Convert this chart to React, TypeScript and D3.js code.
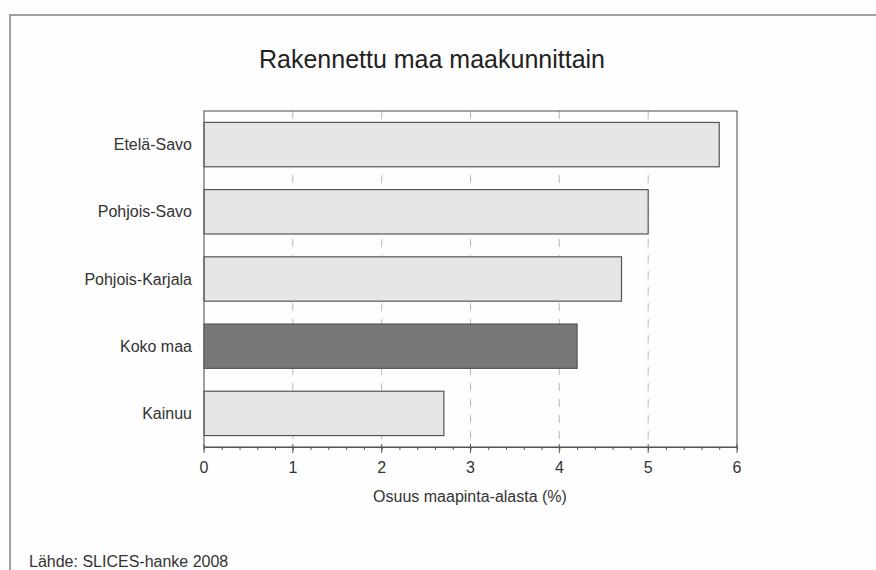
import * as d3 from "d3";
import { useEffect, useRef } from "react";

const categories = ["Etelä-Savo", "Pohjois-Savo", "Pohjois-Karjala", "Koko maa", "Kainuu"];
const values = [5.8, 5.0, 4.7, 4.2, 2.7];
const highlighted = ["Koko maa"];
const xTicks = [0, 1, 2, 3, 4, 5, 6];

const title = "Rakennettu maa maakunnittain";
const xLabel = "Osuus maapinta-alasta (%)";
const source = "Lähde: SLICES-hanke 2008";

const App = () => {
  const ref = useRef<HTMLDivElement>(null);

  useEffect(() => {
    const width = 876;
    const height = 570;
    const left = 204;
    const right = 737;
    const top = 111;
    const bottom = 447;
    const font = "Arial, 'Liberation Sans', sans-serif";

    d3.select(ref.current).select("svg").remove();

    const svg = d3
      .select(ref.current)
      .append("svg")
      .attr("width", width)
      .attr("height", height)
      .style("display", "block")
      .style("background", "#fefefe");

    // outer frame (only top and left edges visible)
    svg
      .append("path")
      .attr("d", `M10,${height} L10,15 L${width},15`)
      .attr("fill", "none")
      .attr("stroke", "#a0a0a0")
      .attr("stroke-width", 2);

    svg
      .append("text")
      .attr("x", 432)
      .attr("y", 68)
      .attr("text-anchor", "middle")
      .attr("font-family", font)
      .attr("font-size", 25)
      .attr("fill", "#222")
      .text(title);

    const x = d3.scaleLinear().domain([0, 6]).range([left, right]);
    const y = d3
      .scaleBand<string>()
      .domain(categories)
      .range([top, bottom])
      .paddingInner(0.34)
      .paddingOuter(0.17);

    // dashed grid
    svg
      .append("g")
      .selectAll("line")
      .data(xTicks.slice(1, -1))
      .join("line")
      .attr("x1", (d) => x(d))
      .attr("x2", (d) => x(d))
      .attr("y1", top)
      .attr("y2", bottom)
      .attr("stroke", "#b8b8b8")
      .attr("stroke-width", 1)
      .attr("stroke-dasharray", "8,8");

    // bars
    svg
      .append("g")
      .selectAll("rect")
      .data(categories)
      .join("rect")
      .attr("x", x(0))
      .attr("y", (d) => y(d)!)
      .attr("width", (d, i) => x(values[i]) - x(0))
      .attr("height", y.bandwidth())
      .attr("fill", (d) => (highlighted.includes(d) ? "#777777" : "#e6e6e6"))
      .attr("stroke", "#555")
      .attr("stroke-width", 1.2);

    // plot frame
    svg
      .append("rect")
      .attr("x", left)
      .attr("y", top)
      .attr("width", right - left)
      .attr("height", bottom - top)
      .attr("fill", "none")
      .attr("stroke", "#666")
      .attr("stroke-width", 1.2);

    // category labels
    svg
      .append("g")
      .selectAll("text")
      .data(categories)
      .join("text")
      .attr("x", 192)
      .attr("y", (d) => y(d)! + y.bandwidth() / 2)
      .attr("dy", "0.35em")
      .attr("text-anchor", "end")
      .attr("font-family", font)
      .attr("font-size", 16)
      .attr("fill", "#333")
      .text((d) => d);

    // x axis with minor ticks every 0.2
    const axis = svg.append("g").attr("transform", `translate(0,${bottom})`);
    axis
      .call(
        d3
          .axisBottom(x)
          .tickValues(d3.range(0, 6.01, 0.2))
          .tickSize(3)
          .tickFormat(() => "")
      )
      .call((g) => g.select(".domain").attr("stroke", "#555"))
      .call((g) => g.selectAll(".tick line").attr("stroke", "#555"));

    axis
      .append("g")
      .selectAll("line")
      .data(xTicks)
      .join("line")
      .attr("x1", (d) => x(d))
      .attr("x2", (d) => x(d))
      .attr("y1", -3)
      .attr("y2", 6)
      .attr("stroke", "#555");

    axis
      .append("g")
      .selectAll("text")
      .data(xTicks)
      .join("text")
      .attr("x", (d) => x(d))
      .attr("y", 26)
      .attr("text-anchor", "middle")
      .attr("font-family", font)
      .attr("font-size", 16)
      .attr("fill", "#333")
      .text((d) => d);

    svg
      .append("text")
      .attr("x", 470)
      .attr("y", 502)
      .attr("text-anchor", "middle")
      .attr("font-family", font)
      .attr("font-size", 16)
      .attr("fill", "#333")
      .text(xLabel);

    svg
      .append("text")
      .attr("x", 29)
      .attr("y", 567)
      .attr("font-family", font)
      .attr("font-size", 16)
      .attr("fill", "#333")
      .text(source);
  }, []);

  return <div ref={ref} style={{ position: "fixed", left: 0, top: 0 }}></div>;
};

export default App;
